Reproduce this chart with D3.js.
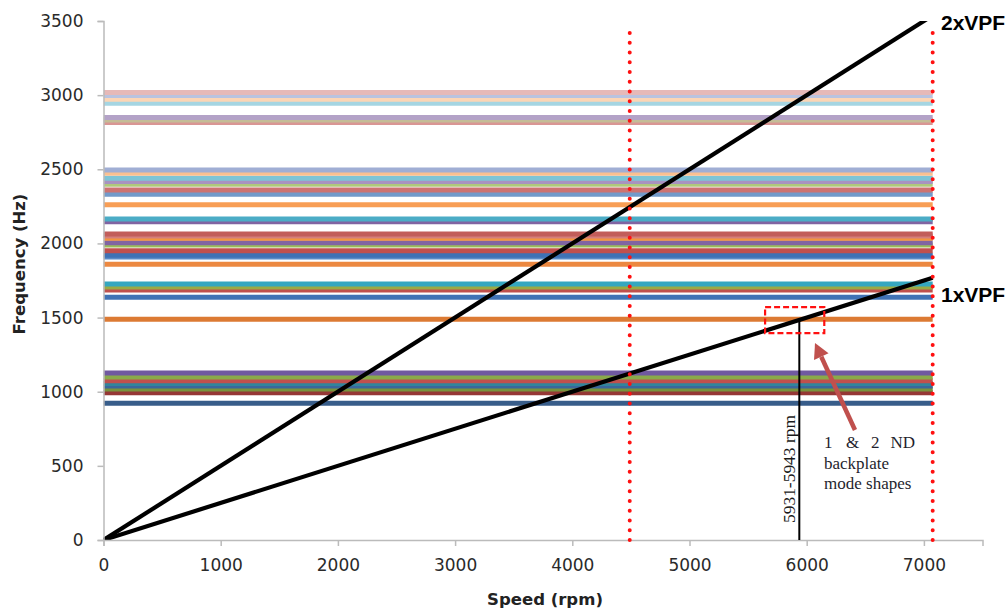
<!DOCTYPE html>
<html><head><meta charset="utf-8">
<script src="https://cdn.jsdelivr.net/npm/d3@7"></script>
<style>html,body{margin:0;padding:0;background:#fff;}svg{display:block;}</style>
</head><body>
<svg id="chart" width="1008" height="615"></svg>
<script>
// ---- data ----
const xTicks = [0, 1000, 2000, 3000, 4000, 5000, 6000, 7000];
const yTicks = [0, 500, 1000, 1500, 2000, 2500, 3000, 3500];
const modeFreqs = [922, 993, 1018, 1038, 1055, 1074, 1100, 1126,
  1488, 1637, 1686, 1706, 1727,
  1860, 1908, 1920, 1951, 1990, 2005, 2035, 2050, 2064,
  2147, 2165, 2260, 2332, 2361, 2399, 2417, 2440, 2473, 2496,
  2815, 2833, 2849, 2946, 2972, 2997, 3017];
const modeColors = ["#385D8A", "#953735", "#77933C", "#3A679C", "#31859C", "#C0504D", "#8AAA4A", "#7059A0",
  "#DC7A33", "#4072B5", "#C0504D", "#9BAA44", "#35A7C0",
  "#EC8840", "#5B8BC6", "#3E72B5", "#C0504D", "#9BBB59", "#8064A2", "#F2943F", "#D47E7B", "#C25D5A",
  "#8064A2", "#4BACC6", "#F89E55", "#729ACA", "#CD7371", "#AFC97A", "#A893C0", "#7EC4D6", "#FAC090", "#A0AED4",
  "#D99694", "#C4BD97", "#B3A2C7", "#A5D5E2", "#FCD5B5", "#B9C3E0", "#E6B9B8"];
const speedRange = [0, 7075];
const vpfOrders = [1, 2];
const vpfNames = ["1xVPF", "2xVPF"];
const vpfPerRpm = 0.25;             // Hz per rpm (1xVPF)
const limitSpeeds = [4490, 7075];   // red dotted limits
const crossSpeed = 5937;            // "5931-5943 rpm"
const crossLabel = "5931-5943 rpm";
const boxSpeed = [5645, 6150], boxFreq = [1395, 1570];
const arrowFrom = [6412, 742], arrowTo = [6071, 1328];
const noteWords = ["1", "&", "2", "ND"];
const noteLines = ["backplate", "mode shapes"];

// ---- layout ----
const svg = d3.select("#chart");
const x = d3.scaleLinear().domain([0, 7500]).range([103.5, 982.5]);
const y = d3.scaleLinear().domain([0, 3500]).range([540, 21]);

svg.append("defs").append("clipPath").attr("id", "plotclip")
  .append("rect").attr("x", x(0)).attr("y", y(3500)).attr("width", x(7500) - x(0)).attr("height", y(0) - y(3500));

const plot = svg.append("g").attr("clip-path", "url(#plotclip)");

// mode lines
plot.selectAll("line.mode").data(modeFreqs).join("line").attr("class", "mode")
  .attr("x1", x(speedRange[0])).attr("x2", x(speedRange[1]))
  .attr("y1", d => y(d)).attr("y2", d => y(d))
  .attr("stroke", (d, i) => modeColors[i]).attr("stroke-width", 5);

// axes
const axisColor = "#BBBBBB";
const xAxis = svg.append("g").attr("transform", `translate(0,${y(0)})`)
  .call(d3.axisBottom(x).tickValues(xTicks).tickSize(6).tickPadding(13).tickFormat(d3.format("d")));
const yAxis = svg.append("g").attr("transform", `translate(${x(0)},0)`)
  .call(d3.axisLeft(y).tickValues(yTicks).tickSize(6).tickPadding(14).tickFormat(d3.format("d")));
[xAxis, yAxis].forEach(g => {
  g.select(".domain").attr("stroke", axisColor).attr("stroke-width", 1.5);
  g.selectAll(".tick line").attr("stroke", axisColor).attr("stroke-width", 1.5);
  g.selectAll(".tick text").attr("fill", "#2a2a2a").style("font-family", "DejaVu Sans").style("font-size", "17px");
});

// VPF lines
const lineGen = d3.line().x(d => x(d[0])).y(d => y(d[1]));
plot.selectAll("path.vpf").data(vpfOrders).join("path").attr("class", "vpf")
  .attr("d", k => lineGen(speedRange.map(s => [s, s * vpfPerRpm * k])))
  .attr("fill", "none").attr("stroke", "#000").attr("stroke-width", 4.2);

// red dotted limit lines
svg.selectAll("line.limit").data(limitSpeeds).join("line").attr("class", "limit")
  .attr("x1", d => x(d)).attr("x2", d => x(d))
  .attr("y1", y(0)).attr("y2", y(3455))
  .attr("stroke", "#FF1010").attr("stroke-width", 4).attr("stroke-linecap", "round")
  .attr("stroke-dasharray", "0 9.75");

// crossing marker
svg.append("line").attr("x1", x(crossSpeed)).attr("x2", x(crossSpeed))
  .attr("y1", y(0)).attr("y2", y(crossSpeed * vpfPerRpm))
  .attr("stroke", "#000").attr("stroke-width", 2);
svg.append("text").text(crossLabel)
  .attr("transform", `translate(${x(crossSpeed) - 4},${y(0) - 17}) rotate(-90)`)
  .attr("textLength", 108).attr("lengthAdjust", "spacingAndGlyphs")
  .style("font-family", "Liberation Serif").style("font-size", "16px").attr("fill", "#1a1a1a");

// dashed box
svg.append("rect").attr("x", x(boxSpeed[0])).attr("y", y(boxFreq[1]))
  .attr("width", x(boxSpeed[1]) - x(boxSpeed[0])).attr("height", y(boxFreq[0]) - y(boxFreq[1]))
  .attr("fill", "none").attr("stroke", "#FF1010").attr("stroke-width", 2.2).attr("stroke-dasharray", "6 3");

// arrow
const ax0 = x(arrowFrom[0]), ay0 = y(arrowFrom[1]), ax1 = x(arrowTo[0]), ay1 = y(arrowTo[1]);
const ang = Math.atan2(ay1 - ay0, ax1 - ax0);
const headLen = 15, headW = 8;
const bx = ax1 - headLen * Math.cos(ang), by = ay1 - headLen * Math.sin(ang);
svg.append("line").attr("x1", ax0).attr("y1", ay0).attr("x2", bx).attr("y2", by)
  .attr("stroke", "#C0504D").attr("stroke-width", 4.5);
svg.append("path").attr("d", `M${ax1},${ay1} L${bx + headW * Math.sin(ang)},${by - headW * Math.cos(ang)} L${bx - headW * Math.sin(ang)},${by + headW * Math.cos(ang)} Z`)
  .attr("fill", "#C0504D");

// note text
const noteStyle = sel => sel.style("font-family", "Liberation Serif").style("font-size", "17px").attr("fill", "#1f1f2e");
const wordX = [824, 846, 871, 915];
svg.selectAll("text.noteword").data(noteWords).join("text").attr("class", "noteword")
  .attr("x", (d, i) => wordX[i]).attr("y", 448)
  .attr("text-anchor", (d, i) => i === 3 ? "end" : "start")
  .text(d => d).call(noteStyle);
svg.selectAll("text.note").data(noteLines).join("text").attr("class", "note")
  .attr("x", 824).attr("y", (d, i) => 468.5 + i * 20.5)
  .text(d => d).call(noteStyle);

// VPF labels
svg.selectAll("text.vpflab").data(vpfOrders).join("text").attr("class", "vpflab")
  .attr("x", 941).attr("y", (k, i) => i === 0 ? 302 : 30)
  .text((k, i) => vpfNames[i])
  .style("font-family", "Liberation Sans").style("font-weight", "bold").style("font-size", "21px").attr("fill", "#000");

// axis titles
svg.append("text").text("Speed (rpm)")
  .attr("x", 545).attr("y", 605).attr("text-anchor", "middle")
  .style("font-family", "DejaVu Sans").style("font-weight", "bold").style("font-size", "16.5px").attr("fill", "#222");
svg.append("text").text("Frequency (Hz)")
  .attr("transform", "translate(25,264) rotate(-90)").attr("text-anchor", "middle")
  .style("font-family", "DejaVu Sans").style("font-weight", "bold").style("font-size", "16.5px").attr("fill", "#222");
</script>
</body></html>
